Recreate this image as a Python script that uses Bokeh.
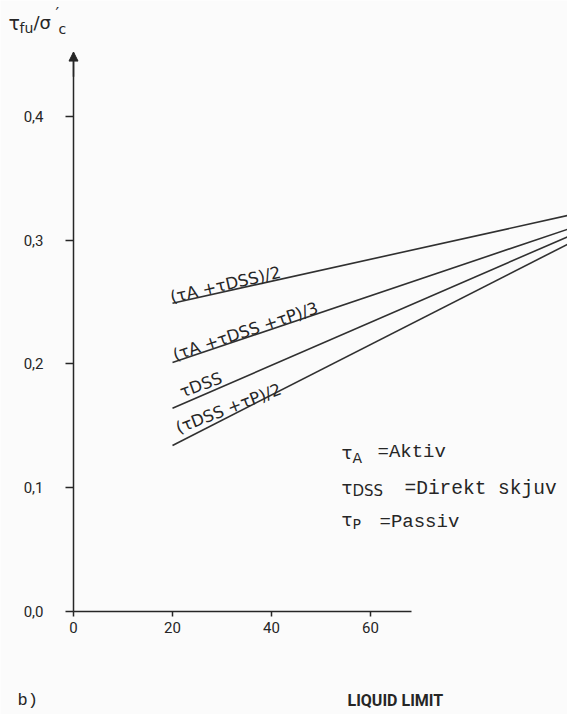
import math
from bokeh.plotting import figure
from bokeh.models import Label, Arrow, NormalHead, FixedTicker, CustomJSTickFormatter, Range1d
from bokeh.embed import file_html
from bokeh.resources import INLINE

# ---- data ----
liquid_limit = [20, 100]
tau_a_dss_2 = [0.249, 0.320]        # (τA + τDSS)/2
tau_a_dss_p_3 = [0.201, 0.309]      # (τA + τDSS + τP)/3
tau_dss = [0.164, 0.303]            # τDSS
tau_dss_p_2 = [0.134, 0.297]        # (τDSS + τP)/2
series = [tau_a_dss_2, tau_a_dss_p_3, tau_dss, tau_dss_p_2]
series_labels = ["(τA +τDSS)/2", "(τA +τDSS +τP)/3", "τDSS", "(τDSS +τP)/2"]
x_ticks = [0, 20, 40, 60]
y_ticks = [0.0, 0.1, 0.2, 0.3, 0.4]
x_axis_end = 68.3
y_axis_end = 0.452

# ---- layout / style ----
W, H = 567, 714
PXU = 4.95      # px per liquid-limit unit
PYU = 1237.0    # px per ratio unit
X0 = 73.0       # canvas x of x=0
FB = 610.7      # canvas y of y=0
INK = "#262626"
BG = "#fbfbfb"

p = figure(width=W, height=H, output_backend="svg", toolbar_location=None,
           x_range=Range1d(-X0 / PXU, (W - X0) / PXU),
           y_range=Range1d(-(H - FB) / PYU, FB / PYU),
           min_border_left=0, min_border_right=0, min_border_top=0,
           min_border_bottom=0, title=None)
p.background_fill_color = BG
p.border_fill_color = BG
p.outline_line_color = None
p.grid.visible = False

for ax in (p.xaxis[0], p.yaxis[0]):
    ax.fixed_location = 0
    ax.axis_line_color = INK
    ax.axis_line_width = 1.5
    ax.major_tick_line_color = INK
    ax.major_tick_line_width = 1.5
    ax.minor_tick_line_color = None
    ax.major_tick_in = 0
    ax.major_label_text_font = "Roboto"
    ax.major_label_text_font_size = "15px"
    ax.major_label_text_color = INK

p.xaxis.ticker = FixedTicker(ticks=x_ticks)
p.xaxis.bounds = (0, x_axis_end)
p.xaxis.major_tick_out = 5
p.xaxis.major_label_standoff = 6

p.yaxis.ticker = FixedTicker(ticks=y_ticks)
p.yaxis.bounds = (0, y_axis_end)
p.yaxis.major_tick_out = 8
p.yaxis.major_label_standoff = 22
p.yaxis.formatter = CustomJSTickFormatter(code="return tick.toFixed(1).replace('.', ',');")

p.add_layout(Arrow(end=NormalHead(size=9, fill_color=INK, line_color=INK, line_width=1),
                   x_start=0, y_start=y_axis_end - 0.02, x_end=0, y_end=y_axis_end,
                   line_color=INK, line_width=1.5))

for ys in series:
    p.line(liquid_limit, ys, line_color="#303030", line_width=1.6)


def lab(text, px, py, size, font="DejaVu Sans", angle_deg=0, baseline="middle", style="normal"):
    p.add_layout(Label(x=(px - X0) / PXU, y=(FB - py) / PYU, text=text,
                       text_font=font, text_font_size=f"{size}px", text_color=INK,
                       angle=math.radians(angle_deg), text_baseline=baseline,
                       text_align="left", text_font_style=style))


# labels along the lines (canvas px of baseline start, angle)
line_label_pos = [(170, 297, 13), (173, 355, 18.5), (180, 392, 20), (176, 428, 21)]
for txt, (px, py, ang) in zip(series_labels, line_label_pos):
    lab(txt, px, py, 16.5, angle_deg=ang, baseline="alphabetic")

# title of the y axis
lab("τ", 8, 22, 19)
lab("fu", 19, 27, 14)
lab("/σ", 33, 22, 18)
lab("′", 55, 13, 16)
lab("c", 58, 28, 14)

# key
lab("τ", 341, 452, 18)
lab("A", 352, 457, 14)
lab("=Aktiv", 377, 451, 19, font="Liberation Mono")
lab("τ", 341, 487, 18)
lab("DSS", 352, 490, 15)
lab("=Direkt skjuv", 404, 488, 19.5, font="Liberation Mono")
lab("τ", 341, 519, 18)
lab("P", 352, 523, 14)
lab("=Passiv", 379, 521, 19, font="Liberation Mono")

lab("b)", 17, 700, 17, font="Liberation Mono")
lab("LIQUID LIMIT", 347, 700, 16, font="Roboto", style="bold")

open("out.html", "w").write(file_html(p, INLINE))
